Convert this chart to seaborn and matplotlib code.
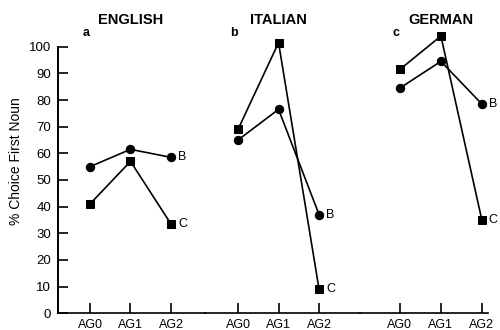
import matplotlib
matplotlib.use("Agg")
import matplotlib.pyplot as plt
import seaborn as sns
import pandas as pd

sns.set_theme(style="white")
plt.rcParams["font.family"] = ["Liberation Sans", "DejaVu Sans"]

# Data
languages = ["ENGLISH", "ITALIAN", "GERMAN"]
panel_letters = ["a", "b", "c"]
groups = ["AG0", "AG1", "AG2"]
english_B = [55.0, 61.5, 58.5]
english_C = [41.0, 57.0, 33.5]
italian_B = [65.0, 76.5, 37.0]
italian_C = [69.0, 101.5, 9.0]
german_B = [84.5, 94.5, 78.5]
german_C = [91.5, 104.0, 35.0]
series_values = {
    "ENGLISH": {"B": english_B, "C": english_C},
    "ITALIAN": {"B": italian_B, "C": italian_C},
    "GERMAN": {"B": german_B, "C": german_C},
}
yticks = list(range(0, 101, 10))

fig = plt.figure(figsize=(5, 3.3), dpi=100)
bottom, height = 0.0506, 0.8079
panel_rects = [
    (0.116, bottom, 0.294, height),
    (0.410, bottom, 0.310, height),
    (0.720, bottom, 0.256, height),
]
panel_xlims = [(-0.79, 2.84), (-0.815, 3.01), (-0.976, 2.15)]

for i, lang in enumerate(languages):
    ax = fig.add_axes(panel_rects[i])
    rows = []
    for series in ["B", "C"]:
        for g, v in zip(groups, series_values[lang][series]):
            rows.append({"group": groups.index(g), "value": v, "series": series})
    df = pd.DataFrame(rows)
    sns.lineplot(
        data=df, x="group", y="value", style="series",
        markers={"B": "o", "C": "s"}, dashes=False, color="black",
        linewidth=1.2, markersize=6, markeredgecolor="black",
        legend=False, ax=ax, clip_on=False,
    )
    for line in ax.lines:
        line.set_clip_on(False)

    # end-of-line series labels
    for series in ["B", "C"]:
        ax.annotate(series, (2, series_values[lang][series][-1]),
                    xytext=(5, 0), textcoords="offset points",
                    va="center", ha="left", fontsize=9, color="black")

    ax.set_xlim(*panel_xlims[i])
    ax.set_ylim(0, 100)
    ax.set_xticks([0, 1, 2])
    ax.set_xticklabels(groups, fontsize=9)
    ax.tick_params(axis="x", direction="in", length=7, width=1.2,
                   pad=4, colors="black", bottom=True)
    ax.set_xlabel("")
    for s in ["top", "right"]:
        ax.spines[s].set_visible(False)
    ax.spines["bottom"].set_color("black")
    ax.spines["bottom"].set_linewidth(1.2)
    ax.patch.set_alpha(0)

    if i == 0:
        ax.set_yticks(yticks)
        ax.set_yticklabels([str(t) for t in yticks], fontsize=9.5)
        ax.tick_params(axis="y", direction="in", length=7, width=1.2,
                       pad=5, colors="black", left=True)
        ax.spines["left"].set_color("black")
        ax.spines["left"].set_linewidth(1.4)
        ax.set_ylabel("% Choice First Noun", fontsize=10, color="black")
        ax.yaxis.label.set_verticalalignment("center")
        ax.yaxis.set_label_coords(-0.285, 0.57)
    else:
        ax.spines["left"].set_visible(False)
        ax.set_yticks([])
        ax.set_ylabel("")

    tr = ax.get_xaxis_transform()
    ax.text(1, 1.10, lang, transform=tr, ha="center", va="center",
            fontsize=10.5, fontweight="bold", color="black")
    ax.text(-0.1, 1.05, panel_letters[i], transform=tr, ha="center",
            va="center", fontsize=9, fontweight="bold", color="black")

fig.savefig("out.png", dpi=100)
